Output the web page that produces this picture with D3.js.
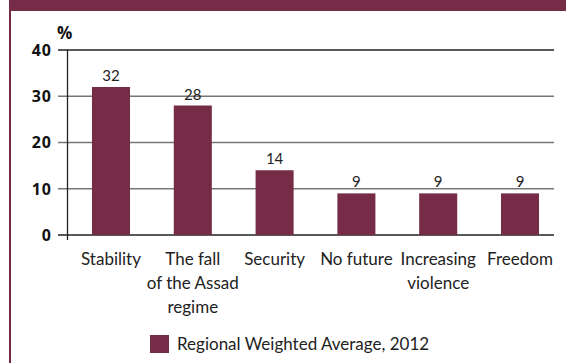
<!DOCTYPE html>
<html><head><meta charset="utf-8">
<script src="https://cdn.jsdelivr.net/npm/d3@7"></script>
<style>html,body{margin:0;padding:0;background:#fff;}svg{display:block;}</style>
</head><body>
<svg id="chart" width="566" height="363"></svg>
<script>
const categories = [["Stability"],["The fall","of the Assad","regime"],["Security"],["No future"],["Increasing","violence"],["Freedom"]];
const values = [32, 28, 14, 9, 9, 9];
const yTicks = [0, 10, 20, 30, 40];
const legendLabel = "Regional Weighted Average, 2012";
const maroon = "#762c47";

const svg = d3.select("#chart");
// frame
svg.append("rect").attr("x",9).attr("y",0).attr("width",557).attr("height",11).attr("fill",maroon);
svg.append("rect").attr("x",9).attr("y",0).attr("width",2).attr("height",363).attr("fill",maroon);

const keys = d3.range(categories.length);
const x = d3.scaleBand().domain(keys).range([70.1, 560.9]).paddingInner(0.535).paddingOuter(0.2675);
const y = d3.scaleLinear().domain([0, 40]).range([235, 50]);

// gridlines
svg.append("g").selectAll("line").data(yTicks).join("line")
  .attr("x1",58).attr("x2",554).attr("y1",d=>y(d)).attr("y2",d=>y(d))
  .attr("stroke",d=>(d===0||d===40)?"#222":"#777").attr("stroke-width",1.3);
// y axis line
svg.append("line").attr("x1",67.5).attr("x2",67.5).attr("y1",y(40)).attr("y2",y(0)+5).attr("stroke","#222").attr("stroke-width",1.3);
// tick labels
svg.append("g").selectAll("text").data(yTicks).join("text")
  .attr("x",52).attr("y",d=>y(d)).attr("dy","0.36em").attr("text-anchor","end")
  .attr("font-family","Open Sans").attr("font-weight",700).attr("font-size",16).attr("letter-spacing",1)
  .attr("fill","#111").text(d=>d);
svg.append("text").attr("x",57).attr("y",39).attr("font-family","Open Sans").attr("font-weight",700)
  .attr("font-size",17).attr("fill","#111").text("%");

// bars
svg.append("g").selectAll("rect").data(values).join("rect")
  .attr("x",(d,i)=>x(i)).attr("width",x.bandwidth())
  .attr("y",d=>y(d)).attr("height",d=>y(0)-y(d)).attr("fill",maroon);
// value labels
svg.append("g").selectAll("text").data(values).join("text")
  .attr("x",(d,i)=>x(i)+x.bandwidth()/2).attr("y",d=>y(d)-6).attr("text-anchor","middle")
  .attr("font-family","Lato").attr("font-size",15).attr("fill","#222").text(d=>d);
// category labels
const cat = svg.append("g").selectAll("text").data(categories).join("text")
  .attr("text-anchor","middle").attr("font-family","Lato").attr("font-size",17).attr("fill","#222")
  .attr("transform",(d,i)=>`translate(${x(i)+x.bandwidth()/2},265)`);
cat.selectAll("tspan").data(d=>d).join("tspan").attr("x",0).attr("y",(d,j)=>j*24).text(d=>d);

// legend
svg.append("rect").attr("x",150).attr("y",335).attr("width",19).attr("height",18).attr("fill",maroon);
svg.append("text").attr("x",177).attr("y",350).attr("font-family","Lato").attr("font-size",17).attr("fill","#222").text(legendLabel);
</script>
</body></html>
